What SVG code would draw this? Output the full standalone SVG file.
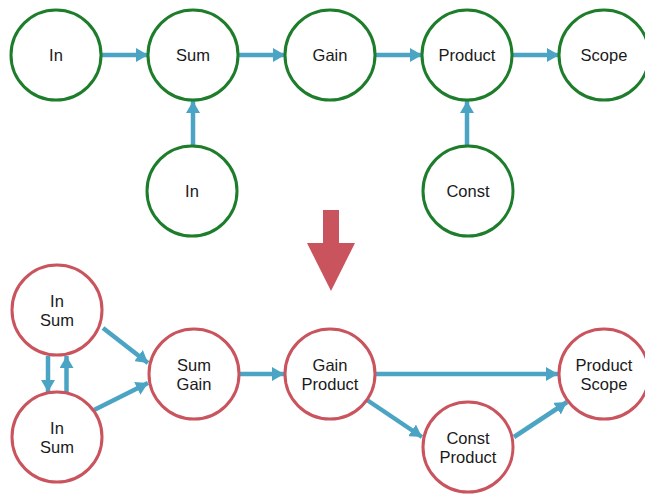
<svg xmlns="http://www.w3.org/2000/svg" width="645" height="494" viewBox="0 0 645 494">
  <defs>
    <marker id="head" viewBox="0 0 12 14" refX="12" refY="7" markerWidth="12" markerHeight="14" markerUnits="userSpaceOnUse" orient="auto">
      <path d="M0,0 L12,7 L0,14 Z" fill="#4ba4c4"/>
    </marker>
    <style>
      .orig circle { fill: #ffffff; stroke: #1d7d2b; stroke-width: 3; }
      .fused circle { fill: #ffffff; stroke: #c9545d; stroke-width: 3; }
      text { font-family: "Liberation Sans", Arial, sans-serif; font-size: 16.5px; fill: #1a1a1a; text-anchor: middle; }
      .edge { stroke: #4ba4c4; stroke-width: 4.5; fill: none; marker-end: url(#head); }
    </style>
  </defs>
  <rect width="645" height="494" fill="#ffffff"/>

  <!-- original graph -->
  <g id="connectors-top">
    <line class="edge" x1="102" y1="55" x2="148" y2="55"/>
    <line class="edge" x1="239" y1="55" x2="285" y2="55"/>
    <line class="edge" x1="376" y1="55" x2="422" y2="55"/>
    <line class="edge" x1="513" y1="55" x2="559" y2="55"/>
    <line class="edge" x1="193" y1="145" x2="193" y2="101"/>
    <line class="edge" x1="467" y1="145" x2="467" y2="101"/>
  </g>
  <g id="in1" class="orig"><circle cx="56" cy="55" r="45"/><text x="56" y="61">In</text></g>
  <g id="sum" class="orig"><circle cx="193" cy="55" r="45"/><text x="193" y="61">Sum</text></g>
  <g id="gain" class="orig"><circle cx="330" cy="55" r="45"/><text x="330" y="61">Gain</text></g>
  <g id="product" class="orig"><circle cx="467" cy="55" r="45"/><text x="467" y="61">Product</text></g>
  <g id="scope" class="orig"><circle cx="604" cy="55" r="45"/><text x="604" y="61">Scope</text></g>
  <g id="in2" class="orig"><circle cx="192" cy="191" r="45"/><text x="192" y="197">In</text></g>
  <g id="const" class="orig"><circle cx="468" cy="191" r="45"/><text x="468" y="197">Const</text></g>

  <!-- transformation arrow -->
  <g id="transform-arrow">
    <polygon points="323,210 339,210 339,243 355,243 331,291 307,243 323,243" fill="#c9545d"/>
  </g>

  <!-- fused graph -->
  <g id="connectors-bottom">
    <line class="edge" x1="48" y1="356" x2="48" y2="392"/>
    <line class="edge" x1="66.5" y1="392" x2="66.5" y2="356"/>
    <line class="edge" x1="103" y1="328" x2="148" y2="363"/>
    <line class="edge" x1="94" y1="410" x2="148" y2="383"/>
    <line class="edge" x1="240" y1="374" x2="284" y2="374"/>
    <line class="edge" x1="376" y1="374" x2="558" y2="374"/>
    <line class="edge" x1="367" y1="400" x2="422" y2="437"/>
    <line class="edge" x1="514" y1="437" x2="567" y2="402"/>
  </g>
  <g id="in-sum-a" class="fused"><circle cx="57" cy="310" r="45"/><text x="57" y="306.5">In</text><text x="57" y="326">Sum</text></g>
  <g id="in-sum-b" class="fused"><circle cx="57" cy="437" r="45"/><text x="57" y="433.5">In</text><text x="57" y="453">Sum</text></g>
  <g id="sum-gain" class="fused"><circle cx="194" cy="374" r="45"/><text x="194" y="370.5">Sum</text><text x="194" y="390">Gain</text></g>
  <g id="gain-product" class="fused"><circle cx="330" cy="374" r="45"/><text x="330" y="370.5">Gain</text><text x="330" y="390">Product</text></g>
  <g id="product-scope" class="fused"><circle cx="604" cy="374" r="45"/><text x="604" y="370.5">Product</text><text x="604" y="390">Scope</text></g>
  <g id="const-product" class="fused"><circle cx="468" cy="447" r="45"/><text x="468" y="443.5">Const</text><text x="468" y="463">Product</text></g>
</svg>
